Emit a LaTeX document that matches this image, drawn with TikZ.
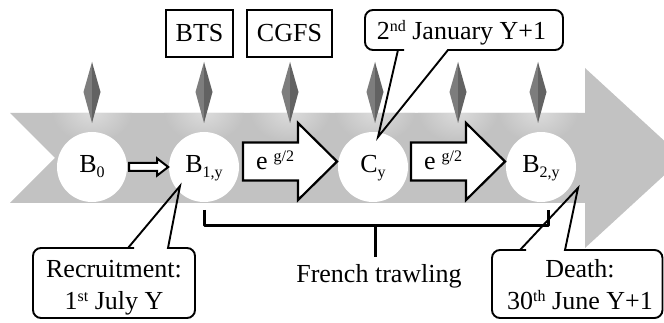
\documentclass[tikz,border=0pt]{standalone}
\usepackage{fontspec}
\setmainfont{Liberation Serif}
\usetikzlibrary{calc}

\definecolor{band}{HTML}{C2C2C2}
\definecolor{glow}{HTML}{DCDCDC}
\definecolor{gemL}{HTML}{7D7D7D}
\definecolor{gemR}{HTML}{626262}

\newcommand\mainsize{\rmfamily\fontsize{26}{31}\selectfont}
\newcommand\up[1]{\raisebox{8pt}{\fontsize{16}{16}\selectfont #1}}
\newcommand\dn[1]{\raisebox{-5pt}{\fontsize{16}{16}\selectfont #1}}

\tikzset{
  ball/.style={circle, fill=white, minimum size=70pt, inner sep=0pt},
  lbl/.style={anchor=base, inner sep=0pt, font=\mainsize},
  tag/.style={draw, line width=2.2pt, minimum height=47pt, inner sep=0pt, font=\mainsize},
  hollow/.style={draw, fill=white, line width=2pt, line join=miter},
  blockarrow/.style={draw, fill=white, line width=2.2pt, line join=miter},
  bubble/.style={draw, line width=1.9pt, line join=miter},
  brace/.style={draw, line width=3pt, line join=round},
}

\begin{document}
\begin{tikzpicture}[x=1pt, y=-1pt]
\useasboundingbox (0,0) rectangle (664,323);

% wide grey timeline arrow with notched tail
\path[fill=band]
  (10,113) -- (585,113) -- (585,68) -- (683,158) -- (585,248)
  -- (585,203) -- (10,203) -- (55,158) -- cycle;

% soft light patches under the markers
\begin{scope}
  \clip (10,113) -- (585,113) -- (585,68) -- (683,158) -- (585,248)
    -- (585,203) -- (10,203) -- (55,158) -- cycle;
  \foreach \x in {92,204,290,375,458,538}
    \shade[inner color=glow, outer color=band] (\x,112) ellipse (40 and 30);
\end{scope}

% diamond markers
\foreach \x in {92,204,290,375,458,538} {
  \fill[gemL] (\x,62) -- (\x,123) -- (\x-8.5,92) -- cycle;
  \fill[gemR] (\x,62) -- (\x+8.5,92) -- (\x,123) -- cycle;
}

% biomass states
\node[ball] (b0) at (92,167) {};
\node[ball] (b1) at (204,167) {};
\node[ball] (cy) at (373,167) {};
\node[ball] (b2) at (541,167) {};

\node[lbl] (b0t) at (92,173) {B\dn{0}};
\node[lbl] (b1t) at (204,173) {B\dn{1,y}};
\node[lbl] (cyt) at (373,173) {C\dn{y}};
\node[lbl] (b2t) at (541,173) {B\dn{2,y}};

% recruitment step B0 -> B1,y
\draw[hollow] ([xshift=2pt]b0.east) ++(0,-4) -- ++(28,0) -- ++(0,-4.5)
  -- ++(11,8.5) -- ++(-11,8.5) -- ++(0,-4.5) -- ++(-28,0) -- cycle;

% growth steps
\coordinate (a1) at (243,161.5);
\coordinate (a2) at (411,161.5);
\foreach \a in {a1,a2}
  \draw[blockarrow] (\a) ++(0,-19) -- ++(55,0) -- ++(0,-19.5) -- ++(39,38.5)
    -- ++(-39,38.5) -- ++(0,-19.5) -- ++(-55,0) -- cycle;
\node[lbl, anchor=base west] (g1) at (256,170) {e\hspace{6pt}\up{g/2}};
\node[lbl, anchor=base west] (g2) at (424,170) {e\hspace{6pt}\up{g/2}};

% survey boxes
\node[tag, minimum width=67pt] (bts) at (199.5,33.5) {BTS};
\node[tag, minimum width=85pt] (cgfs) at (289.5,33.5) {CGFS};

% fishing period bracket
\coordinate (fl) at (204,210);
\coordinate (fr) at (548,210);
\coordinate (fm) at (375,226);
\draw[brace] (fl) -- (fl |- fm) -- (fr |- fm) -- (fr);
\draw[brace] (fm) -- ++(0,31);
\node[lbl] (fish) at (379,282) {French trawling};

% date callouts
\coordinate (janTip) at (378,137);
\draw[bubble] (janTip) -- (448,50) -- (450,50) [rounded corners=8pt]
  -- (563,50) -- (563,10) -- (365,10) -- (365,50) -- (396,50) [sharp corners]
  -- (398,50) -- cycle;
\node[lbl] (jan) at (461.5,40) {2\up{nd} January Y+1};

\coordinate (recTip) at (180,186);
\draw[bubble] (recTip) -- (168,248) -- (170,248) [rounded corners=8pt]
  -- (195,248) -- (195,318) -- (33,318) -- (33,248) -- (126,248) [sharp corners]
  -- (128,248) -- cycle;
\node[lbl] (rec1) at (114,277) {Recruitment:};
\node[lbl] (rec2) at (114,309) {1\up{st} July Y};

\coordinate (dthTip) at (578,188);
\draw[bubble] (dthTip) -- (565,250) -- (567,250) [rounded corners=8pt]
  -- (662.5,250) -- (662.5,318) -- (492,318) -- (492,250) -- (518,250) [sharp corners]
  -- (520,250) -- cycle;
\node[lbl] (dth1) at (580,277) {Death:};
\node[lbl] (dth2) at (580,309) {30\up{th} June Y+1};
\end{tikzpicture}
\end{document}
